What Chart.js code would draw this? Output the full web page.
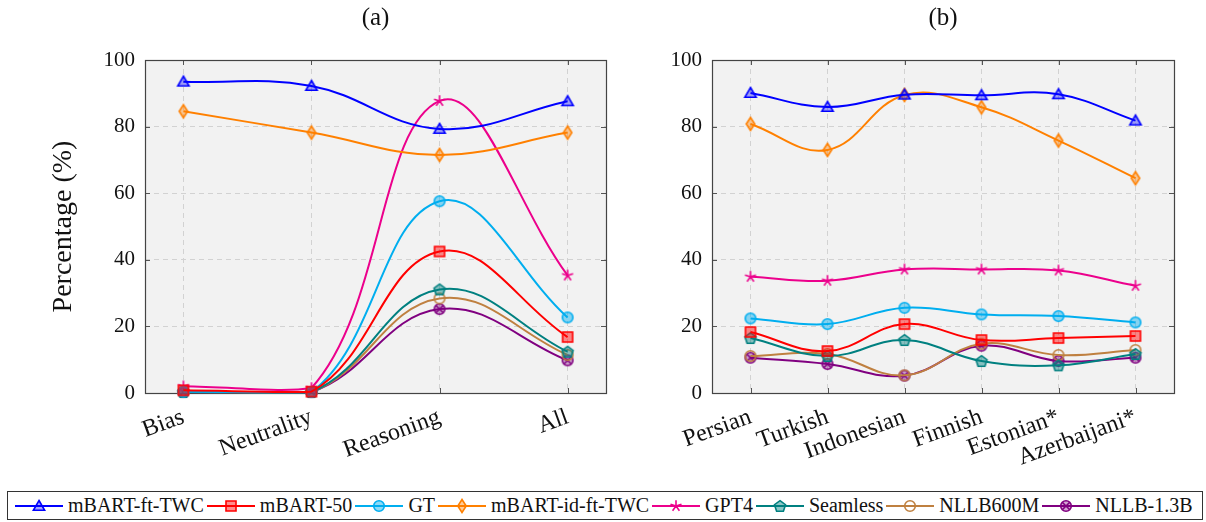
<!DOCTYPE html>
<html>
<head>
<meta charset="utf-8">
<script src="https://cdn.jsdelivr.net/npm/chart.js@4.4.0/dist/chart.umd.min.js"></script>
<style>
  body { margin: 0; background: #fff; width: 1206px; height: 522px; overflow: hidden; position: relative; font-family: "Liberation Serif", serif; }
  #left { position: absolute; left: 0; top: 0; }
  #right { position: absolute; left: 620px; top: 0; }
  #legend { position: absolute; left: 7px; top: 491px; width: 1196px; height: 29px; box-sizing: border-box;
            border: 1px solid #333; display: flex; align-items: center; padding-left: 7px; font-size: 20px; color: #111; }
  .item { display: flex; align-items: center; margin-right: 3px; white-space: nowrap; }
  .item canvas { margin-right: 5px; }
</style>
</head>
<body>
<canvas id="left" width="620" height="480"></canvas>
<canvas id="right" width="586" height="480"></canvas>
<div id="legend"></div>
<script>
// categories
const aCategories = ['Bias', 'Neutrality', 'Reasoning', 'All'];
const bCategories = ['Persian', 'Turkish', 'Indonesian', 'Finnish', 'Estonian*', 'Azerbaijani*'];
const models = ['mBART-ft-TWC', 'mBART-50', 'GT', 'mBART-id-ft-TWC', 'GPT4', 'Seamless', 'NLLB600M', 'NLLB-1.3B'];
const yTicks = [0, 20, 40, 60, 80, 100];

// (a) values per model
const aTWC      = [93.5, 92.2, 79.3, 87.6];
const aMBART50  = [0.8, 0.4, 42.5, 16.8];
const aGT       = [0.4, 0.3, 57.6, 22.7];
const aIdTWC    = [84.6, 78.2, 71.5, 78.2];
const aGPT4     = [2.0, 1.5, 87.7, 35.3];
const aSeamless = [0.3, 0.3, 31.1, 12.4];
const aNLLB600  = [0.3, 0.3, 28.4, 11.4];
const aNLLB13   = [0.3, 0.3, 25.2, 9.8];

// (b) values per model
const bTWC      = [90.1, 85.9, 89.6, 89.4, 89.7, 81.8];
const bMBART50  = [18.3, 12.6, 20.7, 15.9, 16.5, 17.1];
const bGT       = [22.4, 20.7, 25.6, 23.6, 23.1, 21.2];
const bIdTWC    = [80.8, 73.0, 89.5, 85.8, 75.8, 64.5];
const bGPT4     = [34.9, 33.7, 37.1, 37.1, 36.8, 32.2];
const bSeamless = [16.5, 11.1, 15.9, 9.6, 8.3, 11.7];
const bNLLB600  = [11.1, 11.7, 5.3, 14.8, 11.4, 12.9];
const bNLLB13   = [10.6, 8.7, 5.2, 14.2, 9.6, 10.6];

const colors = ['#0000ff', '#ff0000', '#00aeef', '#ff8000', '#ec008c', '#008080', '#bf8040', '#800080'];
const fills  = ['rgba(0,0,255,0.35)', 'rgba(255,0,0,0.45)', 'rgba(0,174,239,0.45)', 'rgba(255,128,0,0.4)',
                'rgba(236,0,140,0.4)', 'rgba(0,128,128,0.45)', 'rgba(0,0,0,0)', 'rgba(128,0,128,0.35)'];
const shapes = ['triangle', 'square', 'circle', 'diamond', 'star', 'pentagon', 'ocircle', 'otimes'];

// marker canvases (pgfplots-like marks)
function makeMarker(shape, stroke, fill) {
  const s = 18, c = s / 2;
  const cv = document.createElement('canvas');
  cv.width = s; cv.height = s;
  const g = cv.getContext('2d');
  g.strokeStyle = stroke; g.fillStyle = fill; g.lineWidth = 1.6; g.lineJoin = 'miter';
  g.beginPath();
  if (shape === 'triangle') {
    const r = 6.5;
    for (let k = 0; k < 3; k++) {
      const a = -Math.PI / 2 + k * 2 * Math.PI / 3;
      k ? g.lineTo(c + r * Math.cos(a), c + 1 + r * Math.sin(a)) : g.moveTo(c + r * Math.cos(a), c + 1 + r * Math.sin(a));
    }
    g.closePath(); g.fill(); g.stroke();
  } else if (shape === 'square') {
    g.rect(c - 5, c - 5, 10, 10); g.fill(); g.stroke();
  } else if (shape === 'circle' || shape === 'ocircle') {
    g.arc(c, c, 5.3, 0, Math.PI * 2); g.fill(); g.stroke();
  } else if (shape === 'diamond') {
    g.moveTo(c, c - 6.5); g.lineTo(c + 4.2, c); g.lineTo(c, c + 6.5); g.lineTo(c - 4.2, c); g.closePath();
    g.fill(); g.stroke();
  } else if (shape === 'star') {
    for (let k = 0; k < 5; k++) {
      const a = -Math.PI / 2 + k * 2 * Math.PI / 5;
      g.moveTo(c, c); g.lineTo(c + 5.8 * Math.cos(a), c + 5.8 * Math.sin(a));
    }
    g.stroke();
  } else if (shape === 'pentagon') {
    const r = 5.8;
    for (let k = 0; k < 5; k++) {
      const a = -Math.PI / 2 + k * 2 * Math.PI / 5;
      k ? g.lineTo(c + r * Math.cos(a), c + 0.5 + r * Math.sin(a)) : g.moveTo(c + r * Math.cos(a), c + 0.5 + r * Math.sin(a));
    }
    g.closePath(); g.fill(); g.stroke();
  } else if (shape === 'otimes') {
    g.arc(c, c, 5.3, 0, Math.PI * 2); g.fill(); g.stroke();
    g.beginPath();
    const d = 5.3 * Math.SQRT1_2;
    g.moveTo(c - d, c - d); g.lineTo(c + d, c + d);
    g.moveTo(c + d, c - d); g.lineTo(c - d, c + d);
    g.stroke();
  }
  return cv;
}
const markers = shapes.map((s, i) => makeMarker(s, colors[i], fills[i]));

// frame, background and inner tick marks like pgfplots
const framePlugin = {
  id: 'frame',
  beforeDraw(chart) {
    const { ctx, chartArea: a } = chart;
    ctx.save();
    ctx.fillStyle = '#f2f2f2';
    ctx.fillRect(a.left, a.top, a.right - a.left, a.bottom - a.top);
    ctx.restore();
  },
  beforeDatasetsDraw(chart) {
    const { ctx, chartArea: a, scales } = chart;
    ctx.save();
    ctx.strokeStyle = '#555';
    ctx.lineWidth = 1;
    ctx.beginPath();
    scales.x.ticks.forEach(t => {
      const x = Math.round(scales.x.getPixelForValue(t.value)) + 0.5;
      ctx.moveTo(x, a.bottom); ctx.lineTo(x, a.bottom - 5);
      ctx.moveTo(x, a.top); ctx.lineTo(x, a.top + 5);
    });
    scales.y.ticks.forEach(t => {
      const y = Math.round(scales.y.getPixelForValue(t.value)) + 0.5;
      ctx.moveTo(a.left, y); ctx.lineTo(a.left + 5, y);
      ctx.moveTo(a.right, y); ctx.lineTo(a.right - 5, y);
    });
    ctx.stroke();
    ctx.strokeStyle = '#444';
    ctx.lineWidth = 1.2;
    ctx.strokeRect(Math.round(a.left) + 0.5, Math.round(a.top) + 0.5, Math.round(a.right - a.left), Math.round(a.bottom - a.top));
    ctx.restore();
  }
};

const serif = '"Liberation Serif", "Times New Roman", serif';

function buildChart(canvasId, title, categories, series, xPad, opts) {
  const datasets = series.map((vals, i) => ({
    label: models[i],
    data: vals.map((v, k) => ({ x: k, y: v })),
    borderColor: colors[i],
    backgroundColor: fills[i],
    borderWidth: 2,
    tension: 0.4,
    pointStyle: markers[i],
    pointRadius: 6,
    clip: false
  }));
  return new Chart(document.getElementById(canvasId), {
    type: 'line',
    data: { datasets },
    options: {
      responsive: false,
      animation: false,
      layout: { padding: { left: opts.padLeft, right: opts.padRight, top: 0, bottom: 0 } },
      plugins: {
        legend: { display: false },
        tooltip: { enabled: false },
        title: {
          display: true, text: title, fullSize: false,
          color: '#111', font: { family: serif, size: 25, weight: 'normal' },
          padding: { top: 3, bottom: 27 }
        }
      },
      scales: {
        x: {
          type: 'linear',
          min: -xPad, max: categories.length - 1 + xPad,
          afterBuildTicks: s => { s.ticks = categories.map((_, k) => ({ value: k })); },
          afterFit: s => { s.height = 87; s.paddingLeft = 0; s.paddingRight = 0; },
          ticks: {
            callback: v => categories[v],
            autoSkip: false, minRotation: 20, maxRotation: 20, padding: 10,
            color: '#111', font: { family: serif, size: 24 }
          },
          grid: { color: '#d2d2d2', drawTicks: false },
          border: { display: false, dash: [5, 4] }
        },
        y: {
          min: 0, max: 100,
          afterBuildTicks: s => { s.ticks = yTicks.map(v => ({ value: v })); },
          afterFit: s => { s.width = opts.yWidth; },
          ticks: { padding: 10, color: '#111', font: { family: serif, size: 21 } },
          grid: { color: '#d2d2d2', drawTicks: false },
          border: { display: false, dash: [5, 4] },
          title: {
            display: !!opts.yTitle, text: opts.yTitle || '', color: '#111',
            font: { family: serif, size: 28 }, padding: { top: 0, bottom: 0 }
          }
        }
      }
    },
    plugins: [framePlugin]
  });
}

buildChart('left', '(a)', aCategories,
  [aTWC, aMBART50, aGT, aIdTWC, aGPT4, aSeamless, aNLLB600, aNLLB13], 0.3,
  { padLeft: 47, padRight: 14, yWidth: 98, yTitle: 'Percentage (%)' });

buildChart('right', '(b)', bCategories,
  [bTWC, bMBART50, bGT, bIdTWC, bGPT4, bSeamless, bNLLB600, bNLLB13], 0.5,
  { padLeft: 0, padRight: 32, yWidth: 92 });

// shared legend
const legend = document.getElementById('legend');
models.forEach((name, i) => {
  const item = document.createElement('div');
  item.className = 'item';
  const cv = document.createElement('canvas');
  cv.width = 48; cv.height = 18;
  const g = cv.getContext('2d');
  g.strokeStyle = colors[i]; g.lineWidth = 2;
  g.beginPath(); g.moveTo(0, 9); g.lineTo(48, 9); g.stroke();
  g.drawImage(markers[i], 24 - 9, 0, 18, 18);
  const span = document.createElement('span');
  span.textContent = name;
  item.appendChild(cv);
  item.appendChild(span);
  legend.appendChild(item);
});
</script>
</body>
</html>
